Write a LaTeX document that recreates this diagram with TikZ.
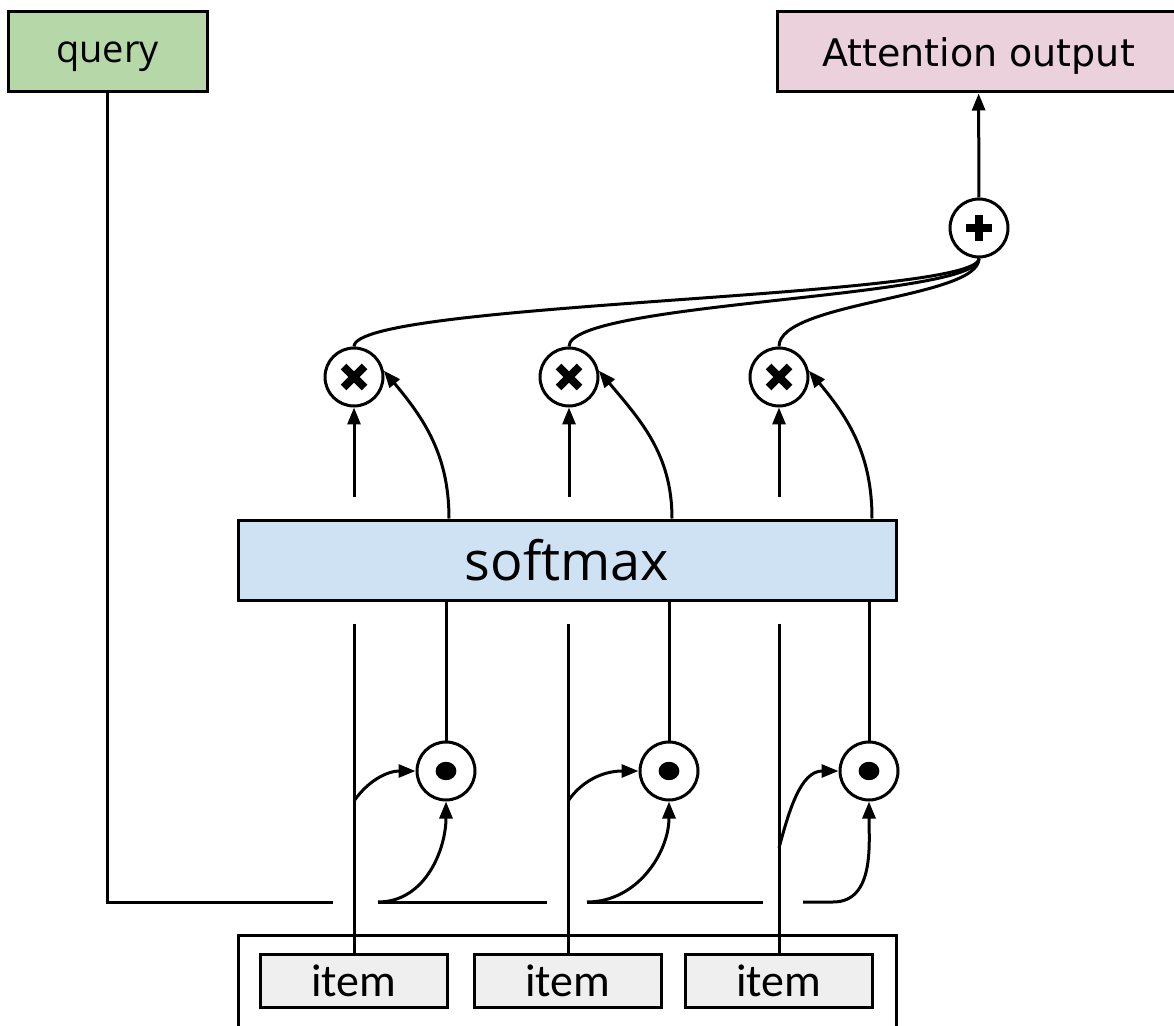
\documentclass[tikz,border=0pt]{standalone}
\usepackage{fontspec}
\setmainfont{Open Sans}
\newfontfamily\dejavu{DejaVu Sans}
\newfontfamily\carlito{Carlito}
\usetikzlibrary{arrows.meta,positioning,calc}
\definecolor{qgreen}{HTML}{B6D7A8}
\definecolor{opink}{HTML}{EAD1DC}
\definecolor{sblue}{HTML}{CFE2F3}
\definecolor{igray}{HTML}{EFEFEF}
\tikzset{
  box/.style={draw,line width=1.5pt,fill=#1,inner sep=0pt},
  box/.default={white},
  wire/.style={line width=1.5pt},
  arr/.style={line width=1.5pt,-{Triangle[length=8.5pt,width=6.5pt]}},
  op/.style={circle,draw,line width=1.5pt,fill=white,minimum size=29pt,inner sep=0pt},
  opplus/.style={op,path picture={
    \draw[black,line width=4pt] ([shift={(-13,0)}]path picture bounding box.center)--([shift={(13,0)}]path picture bounding box.center);
    \draw[black,line width=4pt] ([shift={(0,-13)}]path picture bounding box.center)--([shift={(0,13)}]path picture bounding box.center);}},
  optimes/.style={op,path picture={
    \draw[black,line width=4pt] ([shift={(-10.5,-10.5)}]path picture bounding box.center)--([shift={(10.5,10.5)}]path picture bounding box.center);
    \draw[black,line width=4pt] ([shift={(-10.5,10.5)}]path picture bounding box.center)--([shift={(10.5,-10.5)}]path picture bounding box.center);}},
  opdot/.style={op,path picture={
    \fill[black] (path picture bounding box.center) ellipse (5.2pt and 4.6pt);}},
}
\begin{document}
\begin{tikzpicture}[x=0.5pt,y=0.5pt]
 \useasboundingbox (0,0) rectangle (1174,1025);
 % ---- query & output
 \node[box=qgreen,minimum width=99.5pt,minimum height=40pt,text depth=0pt,font=\fontsize{19}{23}\selectfont] (query) at (107.5,973){query};
 \node[box=opink,minimum width=201.5pt,minimum height=40pt,text depth=0pt,font=\dejavu\fontsize{19}{23}\selectfont] (attnout) at (978.5,973){Attention output};
 % ---- sum
 \node[opplus] (plus) at (979,797){};
 \draw[arr] (plus) -- (attnout);
 % ---- weighting
 \foreach \i/\x in {1/354,2/569,3/779}{
   \node[optimes] (mul\i) at (\x,648){};
   \draw[wire] (plus.south) .. controls +(0,-40) and +(0,45) .. (mul\i.north);
 }
 % ---- softmax
 \node[box=sblue,minimum width=329pt,minimum height=40pt,font=\fontsize{27}{32}\selectfont] (softmax) at (567,465){softmax};
 % ---- items
 \node[draw,line width=1.5pt,minimum width=329pt,minimum height=55pt,inner sep=0pt] (pool) at (567,35){};
 \foreach \i/\x in {1/354,2/568,3/779}{
   \node[box=igray,minimum width=93.5pt,minimum height=26.5pt,font=\carlito\fontsize{23}{27}\selectfont] (item\i) at (\x,44){item};
 }
 % ---- scores
 \foreach \i/\x in {1/446,2/669,3/869}{
   \node[opdot] (dot\i) at (\x,254){};
   \draw[wire] (softmax.south -| dot\i) -- (dot\i.north);
   \draw[arr] ($(softmax.north -| dot\i)+(3,0)$) to[out=90,in=-50] (mul\i.12);
   \draw[arr] ($(softmax.north -| mul\i)+(0,22)$) -- (mul\i.south);
   \draw[wire] ($(softmax.south -| item\i)+(0,-22)$) -- (item\i.north);
 }
 % ---- item to score
 \foreach \i/\h/\a in {1/152/55,2/152/55,3/105/75}{
   \path (item\i.north) ++(0,\h) coordinate (br\i);
   \draw[arr] (br\i) to[out=\a,in=180] (dot\i.west);
 }
 % ---- query bus
 \coordinate (bus) at (0,123);
 \foreach \i in {1,2,3}{\path (item\i.north |- bus) coordinate (cr\i);}
 \draw[wire] (query.south) |- ($(cr1)+(-21,0)$);
 \draw[wire] ($(cr1)+(24,0)$) -- ($(cr2)+(-21,0)$);
 \draw[wire] ($(cr2)+(19,0)$) -- ($(cr3)+(-16,0)$);
 \draw[arr] ($(cr1)+(24,0)$) to[out=0,in=-90] (dot1.south);
 \draw[arr] ($(cr2)+(19,0)$) to[out=0,in=-90] (dot2.south);
 \draw[arr] ($(cr3)+(24,0)$) -- ++(30,0) to[out=0,in=-90] (dot3.south);
\end{tikzpicture}
\end{document}
